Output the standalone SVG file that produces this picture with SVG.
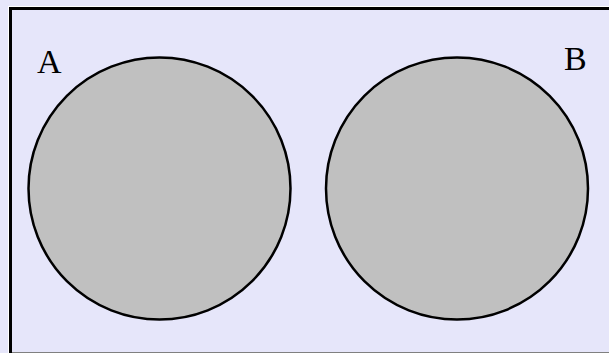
<svg xmlns="http://www.w3.org/2000/svg" width="609" height="353" viewBox="0 0 609 353">
<style>
.set{fill:#c0c0c0;stroke:#000;stroke-width:2.5}
.lbl{font-family:"Liberation Serif","Times New Roman",serif;font-size:34px;fill:#000}
</style>
<rect x="0" y="0" width="609" height="353" fill="#e6e6fa"/>
<rect x="8" y="6" width="601" height="347" fill="#ffffff"/>
<rect x="9" y="7" width="600" height="346" fill="#000"/>
<rect x="12" y="10" width="597" height="342" fill="#e6e6fa"/>
<rect x="12" y="352" width="597" height="1" fill="#808080"/>
<g id="setA">
<circle class="set" cx="159.5" cy="188.5" r="131"/>
<text class="lbl" x="37" y="73">A</text>
</g>
<g id="setB">
<circle class="set" cx="457" cy="188.5" r="131"/>
<text class="lbl" x="564" y="70">B</text>
</g>
<g id="connectors"></g>
</svg>
